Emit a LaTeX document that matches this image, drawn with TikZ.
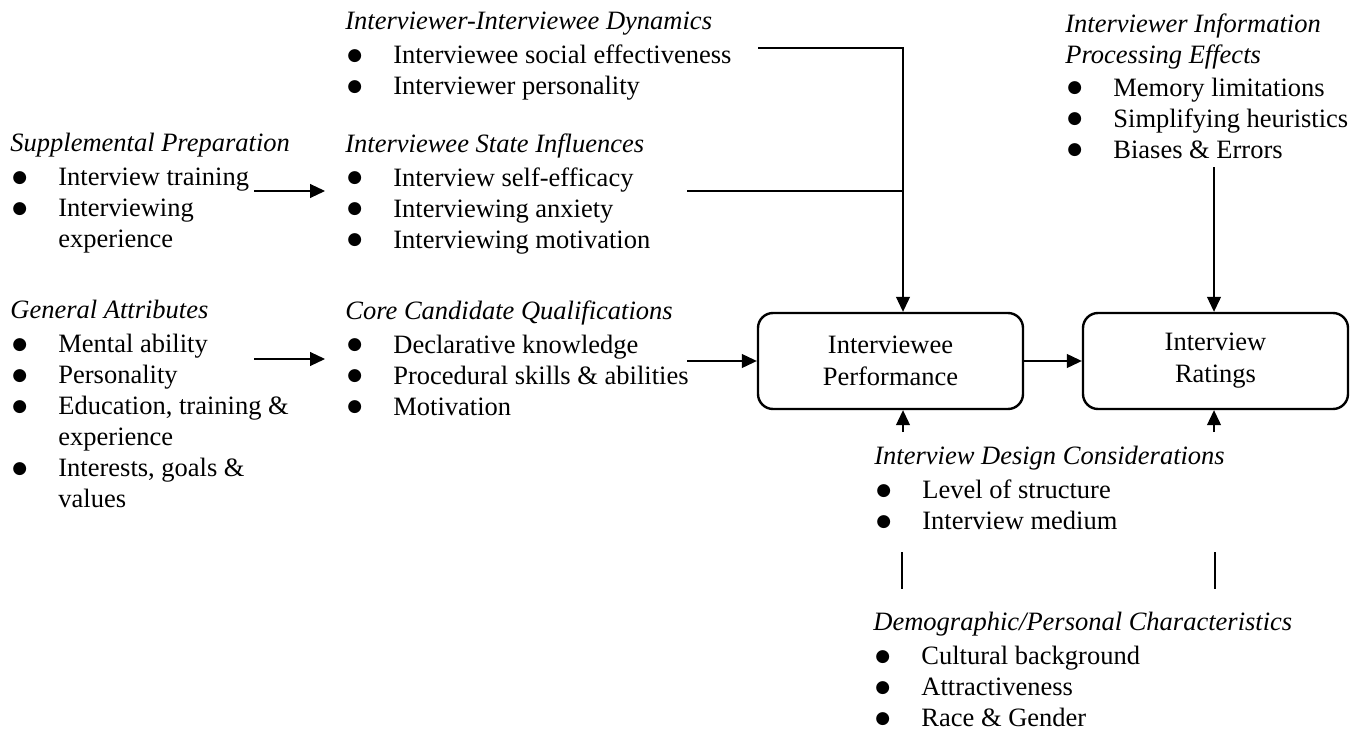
\documentclass[tikz,border=0pt]{standalone}
\usepackage{fontspec}
\setmainfont{Liberation Serif}
\newfontfamily\dotfont{DejaVu Sans}
\usetikzlibrary{arrows.meta}

\newcommand{\bul}{\hspace*{1pt}\makebox[23pt][l]{\raisebox{1.8pt}{\dotfont\fontsize{8.5}{8.5}\selectfont ●}}}
\newcommand{\cont}{\hspace*{24pt}}

\tikzset{
  group/.style={anchor=north west, inner sep=0pt, align=left,
    font=\fontsize{13.25}{15.5}\selectfont},
  stage/.style={draw, line width=1.2pt, rounded corners=7.5pt,
    minimum width=132.5pt, minimum height=48pt, inner sep=0pt,
    align=center, font=\fontsize{13.25}{16}\selectfont},
  conn/.style={line width=0.55pt, -{Triangle[length=7.5pt, width=7pt]}},
  plain/.style={line width=0.55pt}
}

\begin{document}
\begin{tikzpicture}[x=0.5pt, y=-0.5pt]
    \useasboundingbox (0,0) rectangle (1365,733);

    % left column
    \node[group] (supp) at (10,133) {\textit{Supplemental Preparation}\\[1.5pt]
        \bul Interview training\\ \bul Interviewing\\ \cont experience};
    \node[group] (gen) at (10,300) {\textit{General Attributes}\\[1.5pt]
        \bul Mental ability\\ \bul Personality\\ \bul Education, training \&\\
        \cont experience\\ \bul Interests, goals \&\\ \cont values};

    % middle column
    \node[group] (dyn) at (345,12) {\textit{Interviewer-Interviewee Dynamics}\\[1.5pt]
        \bul Interviewee social effectiveness\\ \bul Interviewer personality};
    \node[group] (state) at (345,133) {\textit{Interviewee State Influences}\\[1.5pt]
        \bul Interview self-efficacy\\ \bul Interviewing anxiety\\ \bul Interviewing motivation};
    \node[group] (core) at (345,300) {\textit{Core Candidate Qualifications}\\[1.5pt]
        \bul Declarative knowledge\\ \bul Procedural skills \& abilities\\ \bul Motivation};

    % outcomes
    \node[stage] (perf) at (890.5,361) {Interviewee\\Performance};
    \node[stage] (rate) at (1215.5,361) {Interview\\Ratings};

    % right and bottom groups
    \node[group] (proc) at (1065,13) {\textit{Interviewer Information}\\
        \textit{Processing Effects}\\[1pt]
        \bul Memory limitations\\ \bul Simplifying heuristics\\ \bul Biases \& Errors};
    \node[group] (design) at (874,446) {\textit{Interview Design Considerations}\\[1.5pt]
        \bul Level of structure\\ \bul Interview medium};
    \node[group] (demo) at (873,612) {\textit{Demographic/Personal Characteristics}\\[1.5pt]
        \bul Cultural background\\ \bul Attractiveness\\ \bul Race \& Gender};

    % connector ends
    \coordinate (suppout) at (254,191);
    \coordinate (statein) at (325,191);
    \coordinate (genout) at (254,359);
    \coordinate (corein) at (325,359);
    \coordinate (coreout) at (687,361);
    \coordinate (dynout) at (758,48);
    \coordinate (stateout) at (687,191);
    \coordinate (join) at (903,48);
    \coordinate (procout) at (1214,167);
    \coordinate (desl) at (903,432);
    \coordinate (desr) at (1214,432);
    \coordinate (deml) at (902,552);
    \coordinate (demr) at (1215,552);

    \draw[conn] (suppout) -- (statein);
    \draw[conn] (genout) -- (corein);
    \draw[conn] (coreout) -- (coreout -| perf.west);
    \draw[conn] (perf) -- (rate);
    \draw[conn] (dynout) -- (join) -- (join |- perf.north);
    \draw[plain] (stateout) -- (stateout -| join);
    \draw[conn] (procout) -- (procout |- rate.north);
    \draw[conn] (desl) -- (desl |- perf.south);
    \draw[conn] (desr) -- (desr |- rate.south);
    \draw[plain] (deml) -- ++(0,37);
    \draw[plain] (demr) -- ++(0,37);
\end{tikzpicture}
\end{document}
